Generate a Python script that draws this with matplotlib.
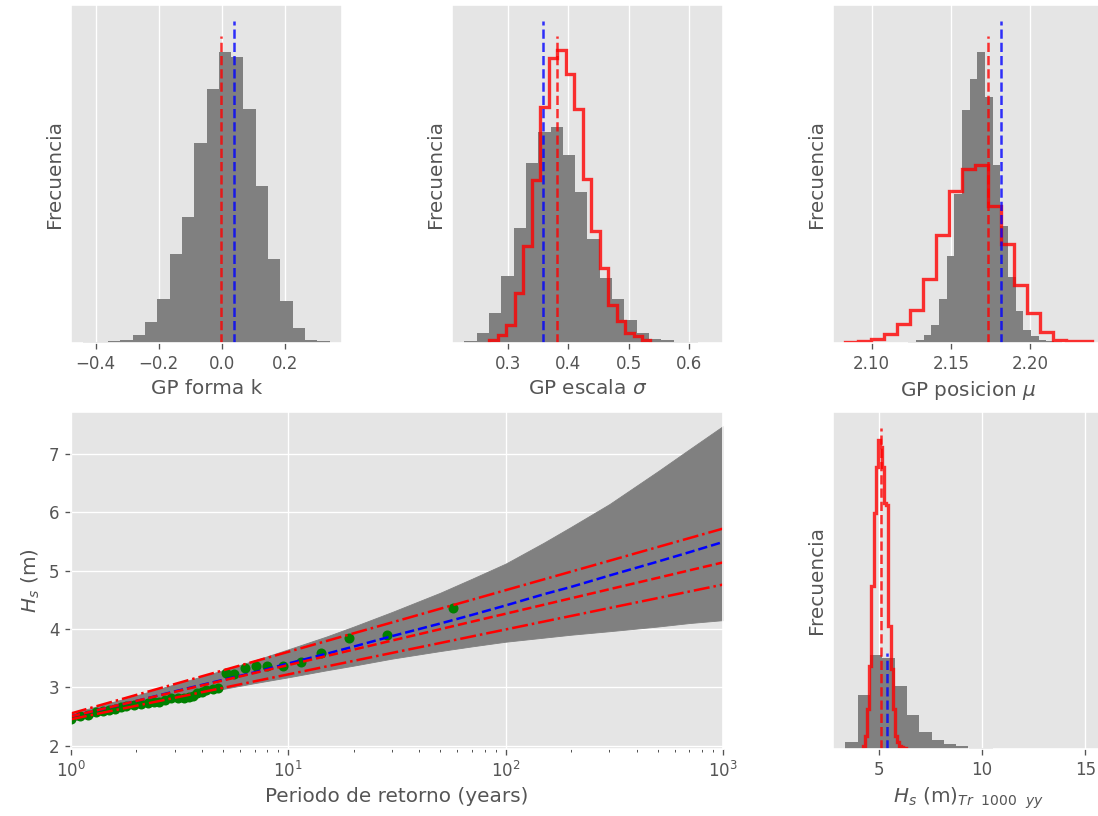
import matplotlib
matplotlib.use('Agg')
import matplotlib.pyplot as plt
import numpy as np

plt.style.use('ggplot')

# --- histogram data (bin range + counts) ---
k_range = (-0.4386, 0.341)
k_counts = [3, 3, 5, 10, 25, 62, 133, 268, 380, 602, 765, 878, 862, 705, 473, 252, 128, 45, 10, 5]
k_red, k_red_h = -0.002, 925
k_blue, k_blue_h = 0.0396, 970

sig_range = (0.2286, 0.635)
sig_counts = [5, 30, 90, 203, 348, 543, 637, 652, 565, 455, 312, 197, 132, 70, 30, 13, 8, 4, 2, 1]
sig_step_range = (0.27, 0.5357)
sig_step_counts = [8, 25, 55, 150, 292, 490, 710, 858, 882, 812, 705, 493, 338, 225, 115, 65, 30, 20, 8]
sig_red, sig_red_h = 0.3823, 925
sig_blue, sig_blue_h = 0.3576, 970

mu_range = (2.1232, 2.2198)
mu_counts = [3, 8, 25, 55, 132, 262, 450, 702, 795, 878, 740, 535, 352, 200, 95, 40, 20, 10, 5, 2]
mu_step_range = (2.0834, 2.2387)
mu_step_counts = [3, 5, 12, 27, 58, 100, 192, 325, 458, 525, 535, 412, 297, 175, 90, 32, 8, 5, 5]
mu_red, mu_red_h = 2.1731, 925
mu_blue, mu_blue_h = 2.1814, 970

hs_range = (3.39, 15.3)
hs_counts = [20, 163, 283, 275, 190, 102, 52, 27, 15, 8, 4, 2, 1, 1, 1, 0, 0, 0, 0, 1]
hs_step_range = (4.24, 6.30)
hs_step_counts = [10, 40, 120, 250, 490, 710, 850, 930, 910, 850, 740, 735, 370, 240, 120, 40, 20, 10, 5, 3]
hs_red, hs_red_h = 5.10, 967
hs_blue, hs_blue_h = 5.42, 290

# --- return period plot ---
T = [1, 1.5, 2, 3, 5, 7, 10, 15, 20, 30, 50, 70, 100, 150, 200, 300, 500, 700, 1000]
band_lo = [2.42, 2.56, 2.66, 2.80, 2.97, 3.07, 3.17, 3.29, 3.37, 3.49, 3.62, 3.70, 3.78,
           3.85, 3.90, 3.96, 4.04, 4.10, 4.15]
band_hi = [2.55, 2.73, 2.86, 3.05, 3.29, 3.46, 3.65, 3.87, 4.04, 4.29, 4.62, 4.86, 5.12,
           5.48, 5.75, 6.14, 6.70, 7.08, 7.48]
fit_blue = [2.50, 2.652, 2.764, 2.928, 3.125, 3.255, 3.407, 3.574, 3.697, 3.876, 4.092, 4.240,
            4.402, 4.595, 4.72, 4.915, 5.153, 5.315, 5.49]
fit_red = [2.50, 2.655, 2.765, 2.920, 3.115, 3.244, 3.38, 3.535, 3.645, 3.800, 3.995, 4.124,
           4.26, 4.415, 4.525, 4.680, 4.875, 5.004, 5.14]
ci_hi = [2.55, 2.736, 2.868, 3.054, 3.289, 3.443, 3.607, 3.793, 3.925, 4.111, 4.346, 4.500,
         4.664, 4.850, 4.982, 5.168, 5.403, 5.557, 5.72]
ci_lo = [2.45, 2.586, 2.682, 2.818, 2.988, 3.101, 3.22, 3.356, 3.452, 3.588, 3.758, 3.871,
         3.99, 4.126, 4.222, 4.358, 4.528, 4.641, 4.76]

T_obs = [1.0, 1.1, 1.2, 1.3, 1.4, 1.5, 1.6, 1.7, 1.8, 1.95, 2.1, 2.25, 2.4, 2.55, 2.7,
         2.9, 3.1, 3.3, 3.5, 3.65, 3.8, 4.0, 4.2, 4.5, 4.75, 5.15, 5.65, 6.3, 7.1, 8.0,
         9.5, 11.4, 14.2, 19.0, 28.5, 57.0]
Hs_obs = [2.46, 2.50, 2.52, 2.57, 2.59, 2.61, 2.63, 2.66, 2.68, 2.70, 2.72, 2.73, 2.74, 2.75, 2.78,
          2.81, 2.82, 2.82, 2.83, 2.85, 2.90, 2.92, 2.95, 2.97, 2.99, 3.25, 3.23, 3.33, 3.37, 3.37,
          3.37, 3.43, 3.59, 3.85, 3.89, 4.35]


def centers(rng, counts):
    edges = np.linspace(rng[0], rng[1], len(counts) + 1)
    return 0.5 * (edges[1:] + edges[:-1]), edges


def panel(ax, rng, counts, xlabel, step=None, red=None, blue=None):
    c, e = centers(rng, counts)
    ax.hist(c, bins=e, weights=counts, color='grey')
    if step is not None:
        c2, e2 = centers(step[0], step[1])
        ax.hist(c2, bins=e2, weights=step[1], histtype='step', color='r', lw=2, alpha=0.8)
    ax.vlines(red[0], 0, red[1], colors='r', linestyles='--', alpha=0.8)
    ax.vlines(blue[0], 0, blue[1], colors='b', linestyles='--', alpha=0.8)
    ax.set_yticks([])
    ax.set_ylabel('Frecuencia')
    ax.set_xlabel(xlabel)


fig = plt.figure(figsize=(9.15, 6.8), dpi=120)
W, H = 1098., 816.
def pos(x0, x1, y0, y1):
    return [x0 / W, 1 - y1 / H, (x1 - x0) / W, (y1 - y0) / H]

ax1 = fig.add_axes(pos(71, 342, 5, 343))
ax2 = fig.add_axes(pos(452, 723, 5, 343))
ax3 = fig.add_axes(pos(833, 1104, 5, 343))
ax4 = fig.add_axes(pos(71, 723, 412, 749))
ax5 = fig.add_axes(pos(833, 1104, 412, 749))

panel(ax1, k_range, k_counts, 'GP forma k', red=(k_red, k_red_h), blue=(k_blue, k_blue_h))
panel(ax2, sig_range, sig_counts, r'GP escala $\sigma$', step=(sig_step_range, sig_step_counts),
      red=(sig_red, sig_red_h), blue=(sig_blue, sig_blue_h))
panel(ax3, mu_range, mu_counts, r'GP posicion $\mu$', step=(mu_step_range, mu_step_counts),
      red=(mu_red, mu_red_h), blue=(mu_blue, mu_blue_h))
panel(ax5, hs_range, hs_counts, r'$H_s$ (m)$_{Tr\ \ 1000\ \ yy}$', step=(hs_step_range, hs_step_counts),
      red=(hs_red, hs_red_h), blue=(hs_blue, hs_blue_h))

ax4.fill_between(T, band_lo, band_hi, color='grey')
ax4.plot(T_obs, Hs_obs, 'o', color='g', ms=5)
ax4.plot(T, fit_blue, '--', color='b')
ax4.plot(T, fit_red, '--', color='r')
ax4.plot(T, ci_hi, '-.', color='r')
ax4.plot(T, ci_lo, '-.', color='r')
ax4.set_xscale('log')
ax4.set_xlim(1, 1000)
ax4.set_ylim(1.94, 7.72)
ax4.set_xlabel('Periodo de retorno (years)')
ax4.set_ylabel('$H_s$ (m)')

fig.savefig('out.png', dpi=120)
